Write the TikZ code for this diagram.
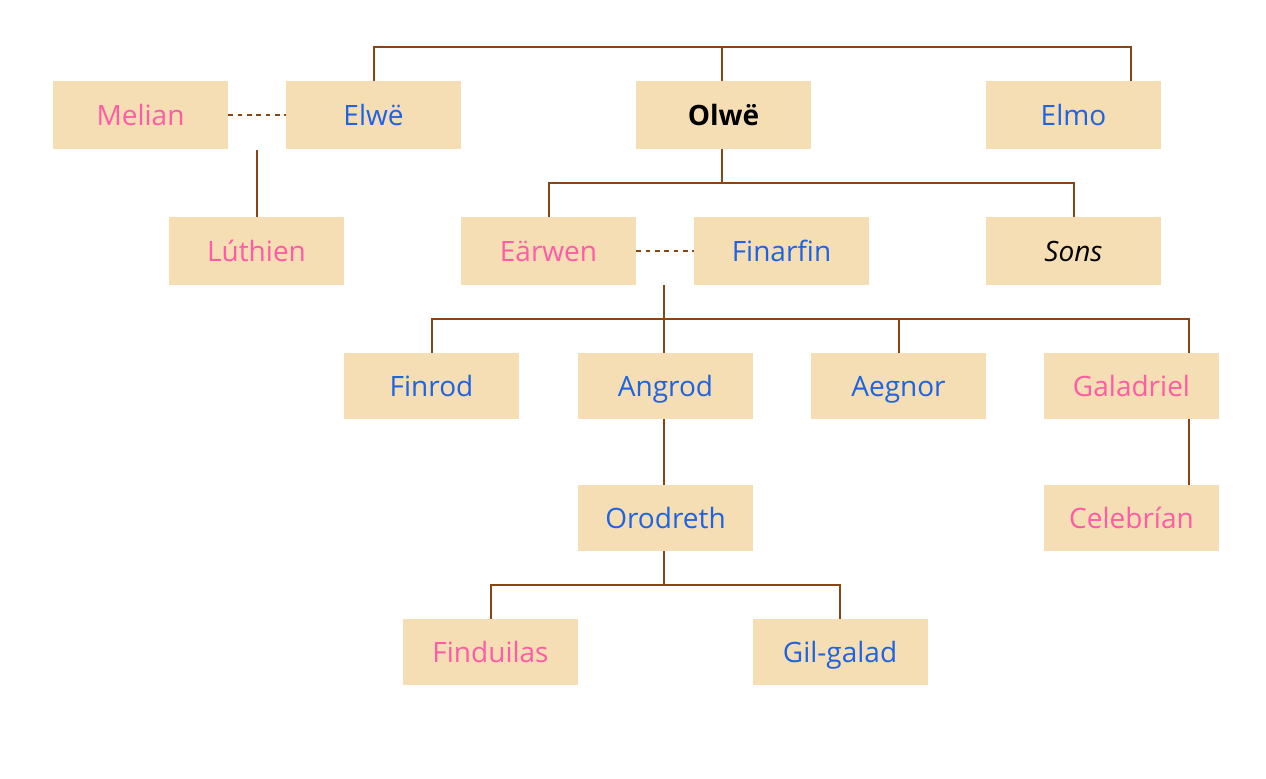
\documentclass[tikz,border=0pt]{standalone}
\usepackage{fontspec}
\setmainfont{Open Sans}
\begin{document}
\begin{tikzpicture}[x=0.75pt,y=-0.75pt,
  person/.style={fill=boxfill, draw=none, minimum width=131.25pt, minimum height=50.5pt, inner sep=0pt, text height=17.5pt, text depth=2.5pt, font=\fontsize{21}{24}\selectfont},
  shortbox/.style={person, minimum height=49.5pt},
  male/.style={text=maleblue},
  female/.style={text=femalepink},
  link/.style={draw=linebrown, line width=1.5pt},
  spouse/.style={link, dash pattern=on 3.5pt off 3.5pt}]
\definecolor{boxfill}{HTML}{F5DEB3}
\definecolor{linebrown}{HTML}{8B4513}
\definecolor{maleblue}{HTML}{1E63E3}
\definecolor{femalepink}{HTML}{FF5CA8}
\useasboundingbox (0,0) rectangle (1266,778);
% row 1
\node[person,female] (melian) at (140.5,115) {Melian};
\node[person,male] (elwe) at (373.5,115) {Elwë};
\node[person,text=black,font=\fontsize{21}{24}\selectfont\bfseries] (olwe) at (723.5,115) {Olwë};
\node[person,male] (elmo) at (1073.5,115) {Elmo};
% row 2
\node[person,female] (luthien) at (256.5,251) {Lúthien};
\node[person,female] (earwen) at (548.5,251) {Eärwen};
\node[person,male] (finarfin) at (781.5,251) {Finarfin};
\node[person,text=black,font=\fontsize{21}{24}\selectfont\itshape] (sons) at (1073.5,251) {Sons};
% row 3
\node[shortbox,male] (finrod) at (431.5,386) {Finrod};
\node[shortbox,male] (angrod) at (665.5,386) {Angrod};
\node[shortbox,male] (aegnor) at (898.5,386) {Aegnor};
\node[shortbox,female] (galadriel) at (1131.5,386) {Galadriel};
% row 4
\node[shortbox,male] (orodreth) at (665.5,518) {Orodreth};
\node[shortbox,female] (celebrian) at (1131.5,518) {Celebrían};
% row 5
\node[shortbox,female] (finduilas) at (490.5,652) {Finduilas};
\node[shortbox,male] (gilgalad) at (840,652) {Gil-galad};
% coordinates
\coordinate (t) at (722,47);
\coordinate (ob) at (722,183);
\coordinate (fb) at (664,319);
\coordinate (ob2) at (664,585);
\path (galadriel.north) ++(57.5,0) coordinate (gn);
\path (elmo.north) ++(57.5,0) coordinate (en);
% connectors
\draw[link] (elwe.north) |- (t) -| (en);
\draw[link] (t |- olwe.north) -- (t);
\draw[spouse] (melian.east) -- (elwe.west);
\draw[link] ([yshift=-1]luthien.north |- melian.south) -- (luthien.north);
\draw[link] (ob |- olwe.south) -- (ob);
\draw[link] (earwen.north) |- (ob) -| (sons.north);
\draw[spouse] (earwen.east) -- (finarfin.west);
\draw[link] (fb |- finarfin.south) -- (fb |- angrod.north);
\draw[link] (finrod.north) |- (fb) -| (gn);
\draw[link] (aegnor.north) -- (aegnor.north |- fb);
\draw[link] (gn |- galadriel.south) -- (gn |- celebrian.north);
\draw[link] (fb |- angrod.south) -- (fb |- orodreth.north);
\draw[link] (fb |- orodreth.south) -- (ob2);
\draw[link] (finduilas.north) |- (ob2) -| (gilgalad.north);
\end{tikzpicture}
\end{document}
